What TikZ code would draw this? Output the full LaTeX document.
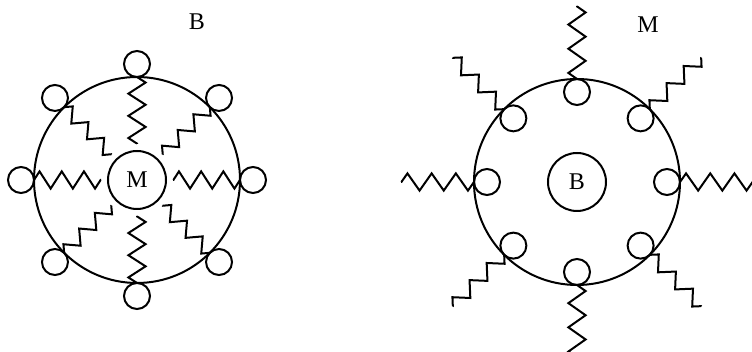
\documentclass[tikz,border=0pt]{standalone}
\usepackage{fontspec}
\setmainfont{Liberation Serif}
\usetikzlibrary{decorations.pathmorphing}
\tikzset{
  spring/.style={decorate,decoration={zigzag,segment length=#1,amplitude=4.3pt}},
  slant/.style={decoration={amplitude=3.3pt}},
  ball/.style={circle,draw,minimum size=13pt,inner sep=0pt},
  core/.style={circle,draw,minimum size=29pt,inner sep=0pt}
}
\begin{document}
\begin{tikzpicture}[x=0.5pt,y=0.5pt,line width=1pt,font=\fontsize{12}{14}\selectfont]
    \useasboundingbox (0,0) rectangle (752,352);
    % left: balls outside, springs inward
    \coordinate (Lc) at (137,172);
    \draw (Lc) circle[radius=103];
    \node[core] (coreM) at (Lc) {M};
    \foreach \a in {0,45,...,315}{
        \node[ball] (ballL\a) at ([shift={(\a:116)}]Lc) {};
        \coordinate (sLo\a) at ([shift={(\a:103)}]Lc);
        \coordinate (sLi\a) at ([shift={(\a:36)}]Lc);
    }
    \foreach \a in {0,90,180,270}
        \draw[spring=11.1pt] (sLo\a) -- (sLi\a);
    \foreach \a in {45,135,225,315}
        \draw[spring=11.1pt,slant] (sLo\a) -- (sLi\a);
    \node (labB) at (197,330) {B};
    % right: balls inside, springs outward
    \coordinate (Rc) at (577,170);
    \draw (Rc) circle[radius=103];
    \node[core] (coreB) at (Rc) {B};
    \foreach \a in {0,45,...,315}{
        \node[ball] (ballR\a) at ([shift={(\a:90)}]Rc) {};
        \coordinate (sRi\a) at ([shift={(\a:103)}]Rc);
        \coordinate (sRo\a) at ([shift={(\a:176)}]Rc);
    }
    \foreach \a in {0,90,180,270}
        \draw[spring=12.1pt] (sRi\a) -- (sRo\a);
    \foreach \a in {45,135,225,315}
        \draw[spring=12.1pt,slant] (sRi\a) -- (sRo\a);
    \node (labM) at (648,327) {M};
\end{tikzpicture}
\end{document}
